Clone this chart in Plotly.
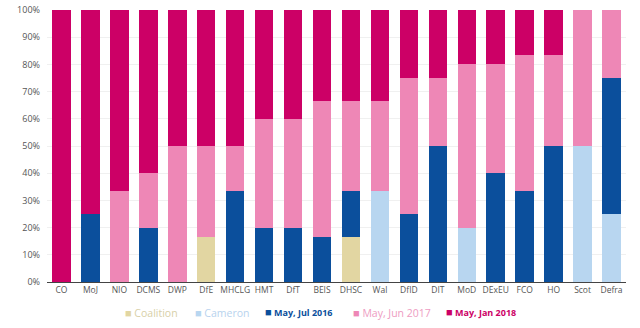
import plotly.graph_objects as go

departments = ["CO", "MoJ", "NIO", "DCMS", "DWP", "DfE", "MHCLG", "HMT", "DfT", "BEIS",
               "DHSC", "Wal", "DfID", "DIT", "MoD", "DExEU", "FCO", "HO", "Scot", "Defra"]

coalition = [0, 0, 0, 0, 0, 16.7, 0, 0, 0, 0, 16.7, 0, 0, 0, 0, 0, 0, 0, 0, 0]
cameron = [0, 0, 0, 0, 0, 0, 0, 0, 0, 0, 0, 33.3, 0, 0, 20, 0, 0, 0, 50, 25]
may_jul_2016 = [0, 25, 0, 20, 0, 0, 33.3, 20, 20, 16.7, 16.7, 0, 25, 50, 0, 40, 33.3, 50, 0, 50]
may_jun_2017 = [0, 0, 33.3, 20, 50, 33.3, 16.7, 40, 40, 50, 33.3, 33.3, 50, 25, 60, 40, 50, 33.3, 50, 25]
may_jan_2018 = [100, 75, 66.7, 60, 50, 50, 50, 40, 40, 33.3, 33.3, 33.3, 25, 25, 20, 20, 16.7, 16.7, 0, 0]

series = [
    ("Coalition", coalition, "#e2d6a2", "#d8d0a8", False),
    ("Cameron", cameron, "#b8d6f0", "#b8d3ee", False),
    ("May, Jul 2016", may_jul_2016, "#0b4f9c", "#0b4f9c", True),
    ("May, Jun 2017", may_jun_2017, "#ee87b6", "#ee9cc2", False),
    ("May, Jan 2018", may_jan_2018, "#cc0066", "#cc0066", True),
]

# legend entry left edges (paper fraction), one legend per series
legend_x = [0.0656, 0.1865, 0.3074, 0.4594, 0.6200]

PLOT_L, PLOT_W = 47, 579

fig = go.Figure()
layout_legends = {}
for i, (name, vals, color, tcolor, bold) in enumerate(series):
    text = f"<b>{name}</b>" if bold else name
    label = (f'<span style="color:{color};font-size:11px">■</span>'
             f'<span style="color:{tcolor}"> {text}</span>')
    lname = "legend" if i == 0 else f"legend{i + 1}"
    fig.add_trace(go.Bar(
        x=departments, y=vals, name=name, showlegend=False,
        marker=dict(color=color, line=dict(width=0)),
    ))
    # legend-only entry; swatch is drawn as a glyph next to the text
    fig.add_trace(go.Scatter(
        x=[None], y=[None], mode="markers", name=label, legend=lname,
        marker=dict(symbol="square", size=1, color="rgba(0,0,0,0)"),
    ))
    layout_legends[lname] = dict(
        orientation="h", x=legend_x[i], xanchor="left", y=-0.112, yanchor="middle",
        font=dict(size=9 if bold else 10.5), itemwidth=30, itemclick=False,
        bgcolor="rgba(0,0,0,0)",
    )

fig.update_layout(
    barmode="stack",
    bargap=0.36,
    width=640, height=328,
    margin=dict(l=PLOT_L, r=640 - PLOT_L - PLOT_W, t=10, b=46, autoexpand=False),
    paper_bgcolor="white", plot_bgcolor="white",
    font=dict(family="Open Sans", size=9, color="#555555"),
    showlegend=True,
    xaxis=dict(showline=True, linecolor="#444444", linewidth=1, ticks="",
               tickfont=dict(size=8.5, color="#555555"), fixedrange=True),
    yaxis=dict(range=[0, 100], dtick=10, ticksuffix="%", showgrid=True,
               gridcolor="#f0f0f0", zeroline=False, tickfont=dict(size=9, color="#555555"),
               ticklabelstandoff=6, fixedrange=True),
    **layout_legends,
)

fig.write_html("out.html")
